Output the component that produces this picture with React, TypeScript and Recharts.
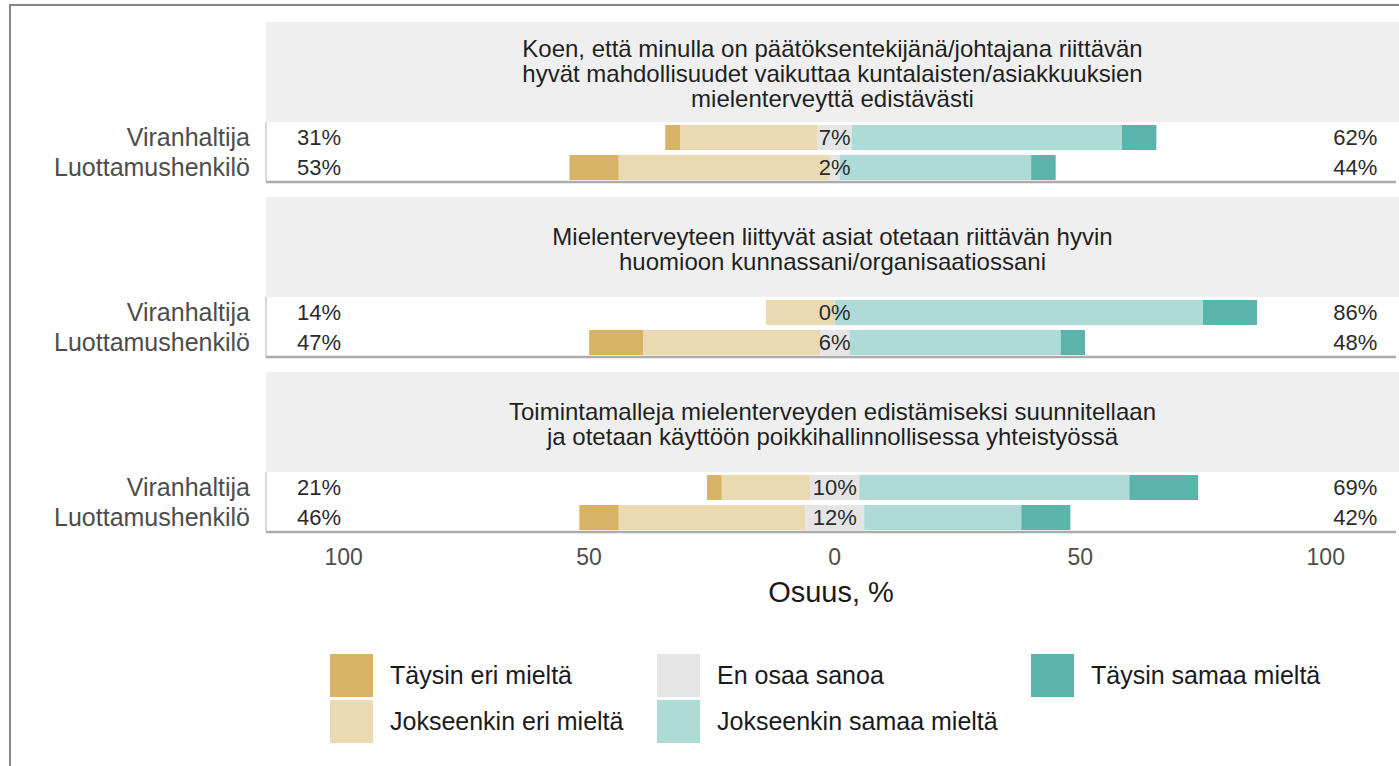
import React from 'react';
import { ComposedChart, Bar, XAxis, YAxis, CartesianGrid, ReferenceDot } from 'recharts';

// ---- data ----
const groups = ['Viranhaltija', 'Luottamushenkilö'];
const questions = [
  'Koen, että minulla on päätöksentekijänä/johtajana riittävän\nhyvät mahdollisuudet vaikuttaa kuntalaisten/asiakkuuksien\nmielenterveyttä edistävästi',
  'Mielenterveyteen liittyvät asiat otetaan riittävän hyvin\nhuomioon kunnassani/organisaatiossani',
  'Toimintamalleja mielenterveyden edistämiseksi suunnitellaan\nja otetaan käyttöön poikkihallinnollisessa yhteistyössä',
];
const seriesNames = [
  'Täysin eri mieltä',
  'Jokseenkin eri mieltä',
  'En osaa sanoa',
  'Jokseenkin samaa mieltä',
  'Täysin samaa mieltä',
];
const seriesColors = ['#D8B365', '#EBD9B1', '#E5E5E5', '#AFDBD7', '#5AB4AC'];

// values per (question, group): Q1-V, Q1-L, Q2-V, Q2-L, Q3-V, Q3-L
const taysinEri = [3, 10, 0, 11, 3, 8];
const jokseenkinEri = [28, 43, 14, 36, 18, 38];
const enOsaa = [7, 2, 0, 6, 10, 12];
const jokseenkinSamaa = [55, 39, 75, 43, 55, 32];
const taysinSamaa = [7, 5, 11, 5, 14, 10];

const xTicks = [-100, -50, 0, 50, 100];
const zeroLine = [0];

const FONT = '"Liberation Sans", Arial, sans-serif';
const PLOT_LEFT = 266;
const CHART_W = 1399;
const PLOT_TOPS = [122, 297, 472];
const STRIP_TOPS = [22, 197, 372];

function panelRows(p: number) {
  return groups.map((g, r) => {
    const i = p * 2 + r;
    return {
      group: g,
      neutralNeg: -enOsaa[i] / 2,
      neutralPos: enOsaa[i] / 2,
      jokEri: -jokseenkinEri[i],
      jokSamaa: jokseenkinSamaa[i],
      taysEri: -taysinEri[i],
      taysSamaa: taysinSamaa[i],
      left: taysinEri[i] + jokseenkinEri[i],
      mid: enOsaa[i],
      right: jokseenkinSamaa[i] + taysinSamaa[i],
    };
  });
}

const pctText = (txt: string) => (props: any) => (
  <text
    x={props.cx}
    y={props.cy}
    textAnchor="middle"
    dominantBaseline="central"
    fontSize={22}
    fill="#2b2b2b"
    fontFamily={FONT}
  >
    {txt}
  </text>
);

function Panel({ p }: { p: number }) {
  const rows = panelRows(p);
  const last = p === 2;
  const axisH = last ? 75 : 4;
  return (
    <div style={{ position: 'absolute', left: 0, top: PLOT_TOPS[p] }}>
      <ComposedChart
        width={CHART_W}
        height={60 + axisH}
        data={rows}
        layout="vertical"
        stackOffset="sign"
        barSize={25}
        margin={{ top: 0, right: 3, bottom: 0, left: 0 }}
      >
        <CartesianGrid
          horizontal={false}
          vertical
          verticalValues={zeroLine}
          verticalCoordinatesGenerator={(args: any) =>
            args && args.xAxis && typeof args.xAxis.scale === 'function'
              ? zeroLine.map((v) => args.xAxis.scale(v))
              : []
          }
          stroke="#333333"
          strokeWidth={1.2}
        />
        <XAxis
          type="number"
          domain={[-115.8, 114.3]}
          ticks={xTicks}
          allowDataOverflow
          height={axisH}
          tickFormatter={(v: number) => String(Math.abs(v))}
          tick={last ? { fontSize: 23, fill: '#4d4d4d', fontFamily: FONT } : false}
          tickLine={false}
          tickSize={0}
          tickMargin={17}
          axisLine={{ stroke: '#ababab', strokeWidth: 2.5 }}
          label={
            last
              ? {
                  value: 'Osuus, %',
                  position: 'insideBottom',
                  offset: 5,
                  style: { fontSize: 29, fill: '#1a1a1a', fontFamily: FONT },
                }
              : undefined
          }
        />
        <YAxis
          type="category"
          dataKey="group"
          width={PLOT_LEFT}
          interval={0}
          tickLine={false}
          tickSize={0}
          tickMargin={16}
          axisLine={{ stroke: '#b5b5b5', strokeWidth: 1 }}
          tick={{ fontSize: 25, fill: '#4d4d4d', fontFamily: FONT }}
        />
        <Bar dataKey="neutralNeg" stackId="a" fill={seriesColors[2]} isAnimationActive={false} />
        <Bar dataKey="neutralPos" stackId="a" fill={seriesColors[2]} isAnimationActive={false} />
        <Bar dataKey="jokEri" stackId="a" fill={seriesColors[1]} isAnimationActive={false} />
        <Bar dataKey="jokSamaa" stackId="a" fill={seriesColors[3]} isAnimationActive={false} />
        <Bar dataKey="taysEri" stackId="a" fill={seriesColors[0]} isAnimationActive={false} />
        <Bar dataKey="taysSamaa" stackId="a" fill={seriesColors[4]} isAnimationActive={false} />
        {rows.map((r) => (
          <ReferenceDot key={r.group + 'l'} x={-105} y={r.group} r={0} ifOverflow="visible" shape={pctText(`${r.left}%`)} />
        ))}
        {rows.map((r) => (
          <ReferenceDot key={r.group + 'm'} x={0} y={r.group} r={0} ifOverflow="visible" shape={pctText(`${r.mid}%`)} />
        ))}
        {rows.map((r) => (
          <ReferenceDot key={r.group + 'r'} x={106} y={r.group} r={0} ifOverflow="visible" shape={pctText(`${r.right}%`)} />
        ))}
      </ComposedChart>
    </div>
  );
}

function Strip({ p }: { p: number }) {
  return (
    <div
      style={{
        position: 'absolute',
        left: PLOT_LEFT,
        top: STRIP_TOPS[p],
        width: CHART_W - PLOT_LEFT,
        height: 100,
        background: '#EFEFEF',
        display: 'flex',
        alignItems: 'center',
        justifyContent: 'center',
        textAlign: 'center',
        whiteSpace: 'pre-line',
        fontFamily: FONT,
        fontSize: 24,
        lineHeight: '25px',
        color: '#1f1f1f',
        paddingTop: 3,
        boxSizing: 'border-box',
      }}
    >
      {questions[p]}
    </div>
  );
}

const legendCols = [
  { x: 330, items: [0, 1] },
  { x: 657, items: [2, 3] },
  { x: 1031, items: [4] },
];

function Legend() {
  return (
    <>
      {legendCols.map((c) =>
        c.items.map((si, row) => (
          <div
            key={si}
            style={{
              position: 'absolute',
              left: c.x,
              top: 654 + row * 46,
              height: 43,
              display: 'flex',
              alignItems: 'center',
              fontFamily: FONT,
              fontSize: 25,
              color: '#1a1a1a',
              whiteSpace: 'nowrap',
            }}
          >
            <div style={{ width: 43, height: 43, background: seriesColors[si], marginRight: 17 }} />
            {seriesNames[si]}
          </div>
        ))
      )}
    </>
  );
}

export default function App() {
  return (
    <div
      style={{
        position: 'absolute',
        left: 0,
        top: 0,
        width: 1399,
        height: 766,
        background: '#ffffff',
        overflow: 'hidden',
      }}
    >
      <div
        style={{
          position: 'absolute',
          left: 9,
          top: 4,
          width: 1500,
          height: 900,
          borderLeft: '2px solid #858585',
          borderTop: '2px solid #858585',
        }}
      />
      {[0, 1, 2].map((p) => (
        <Strip key={'s' + p} p={p} />
      ))}
      {[0, 1, 2].map((p) => (
        <Panel key={'p' + p} p={p} />
      ))}
      <Legend />
    </div>
  );
}
